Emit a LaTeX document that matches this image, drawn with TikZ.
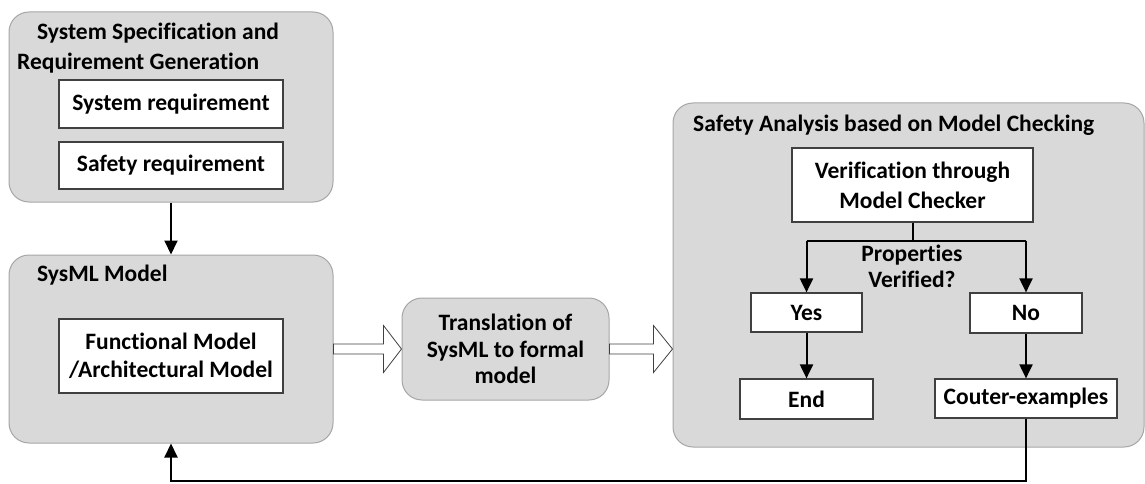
\documentclass[tikz,border=0pt]{standalone}
\usepackage{fontspec}
\setmainfont{Carlito}[Ligatures=NoCommon]
\usetikzlibrary{arrows.meta,calc}

\definecolor{panelfill}{HTML}{D9D9D9}
\definecolor{panelline}{HTML}{A6A6A6}
\definecolor{boxline}{HTML}{404040}

\tikzset{
  panel/.style={draw=panelline, line width=1pt, fill=panelfill, rounded corners=20pt,
    inner sep=0pt, anchor=center},
  wbox/.style={draw=boxline, line width=1.2pt, fill=white, inner sep=0pt, align=center,
    font=\fontsize{23.5}{28.5}\selectfont\bfseries},
  ttl/.style={inner sep=0pt, font=\fontsize{23.5}{29}\selectfont\bfseries},
  flow/.style={line width=2pt, -{Triangle[length=14pt,width=13pt]}},
  plain/.style={line width=2pt},
  hollow/.style={draw=boxline, line width=0.8pt, fill=white, line join=miter}
}

\begin{document}
\begin{tikzpicture}[x=1pt,y=-1pt]
\useasboundingbox (0,0) rectangle (1145,484);

% specification panel
\node[panel, minimum width=324pt, minimum height=190pt] (spec) at (171,107) {};
\node[ttl, anchor=west] (specA) at (37,33) {System Specification and};
\node[ttl, anchor=west] (specB) at (17,63) {Requirement Generation};
\node[wbox, minimum width=224pt, minimum height=48pt] (sysreq) at (171,104) {System requirement};
\node[wbox, minimum width=224pt, minimum height=47pt] (safreq) at (171,165.5) {Safety requirement};

% SysML panel
\node[panel, minimum width=324pt, minimum height=188pt] (sysml) at (171,349) {};
\node[ttl, anchor=west] (sysmlT) at (37,275) {SysML Model};
\node[wbox, minimum width=224pt, minimum height=74pt] (func) at (171,356)
  {Functional Model\\/Architectural Model};

% translation
\node[panel, minimum width=207pt, minimum height=102pt, align=center,
  font=\fontsize{23.5}{26.5}\selectfont\bfseries] (trans) at (505.5,349)
  {Translation of\\SysML to formal\\model};

% safety analysis panel
\node[panel, minimum width=471pt, minimum height=344pt] (safety) at (908.5,275) {};
\node[ttl, anchor=west] (safetyT) at (693,125) {Safety Analysis based on Model Checking};
\node[wbox, minimum width=241pt, minimum height=74pt, font=\fontsize{23.5}{30}\selectfont\bfseries]
  (verif) at (912.5,185) {Verification through\\Model Checker};
\node[ttl, align=center, font=\fontsize{23.5}{26}\selectfont\bfseries] (prop) at (912,266)
  {Properties\\Verified?};
\node[wbox, minimum width=111pt, minimum height=39pt] (yes) at (806.5,312.5) {Yes};
\node[wbox, minimum width=112pt, minimum height=40pt] (no) at (1026,313) {No};
\node[wbox, minimum width=133pt, minimum height=40pt] (end) at (806.5,399) {End};
\node[wbox, minimum width=182pt, minimum height=39pt] (cex) at (1026,398.5) {Couter-examples};

% connectors
\draw[flow] (spec.south) -- (sysml.north);

\coordinate (split) at ($(verif.south)+(0,18)$);
\draw[plain] (verif.south) -- (split);
\draw[plain] (split -| yes.north) -- (split -| no.north);
\draw[flow] (split -| yes.north) -- (yes.north);
\draw[flow] (split -| no.north) -- (no.north);
\draw[flow] (yes.south) -- (end.north);
\draw[flow] (no.south) -- (cex.north);

\coordinate (loop) at (cex.south |- 0,481);
\draw[flow] (cex.south) -- (loop) -- (loop -| sysml.south) -- (sysml.south);

% hollow block arrows
\path[hollow] let \p1=(sysml.east), \p2=(trans.west) in
  (\x1,\y2-5) -- (\x2-18,\y2-5) -- (\x2-18,\y2-23.5) -- (\x2,\y2) --
  (\x2-18,\y2+23.5) -- (\x2-18,\y2+5) -- (\x1,\y2+5) -- cycle;
\path[hollow] let \p1=(trans.east), \p2=(safety.west) in
  (\x1,\y1-5) -- (\x2-19,\y1-5) -- (\x2-19,\y1-23.5) -- (\x2,\y1) --
  (\x2-19,\y1+23.5) -- (\x2-19,\y1+5) -- (\x1,\y1+5) -- cycle;
\end{tikzpicture}
\end{document}
